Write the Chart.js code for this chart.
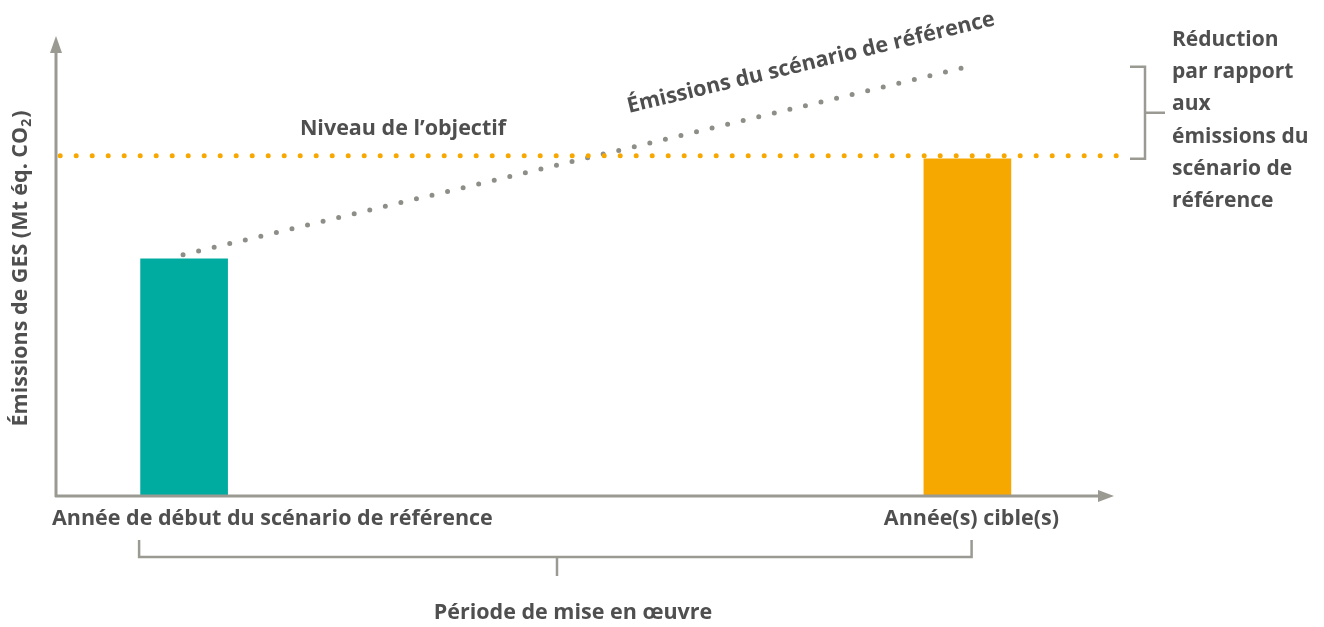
<!DOCTYPE html>
<html>
<head>
<meta charset="utf-8">
<script src="https://cdn.jsdelivr.net/npm/chart.js@4/dist/chart.umd.min.js"></script>
<style>
  html, body { margin: 0; padding: 0; background: #fff; }
  #wrap { width: 1324px; height: 627px; position: relative; }
</style>
</head>
<body>
<div id="wrap"><canvas id="schema"></canvas></div>
<script>
const categories = ['Année de début du scénario de référence', 'Année(s) cible(s)'];
const positions = [12.2, 86.8];
const emissions = [52.7, 74.9];
const niveauObjectif = 75.6;
const referenceX = [12.1, 87.2];
const referenceY = [53.6, 95.6];

const couleurTexte = '#4f4f4f';
const couleurAxe = '#9a9a92';
const police = '"Open Sans", "DejaVu Sans", sans-serif';
const taille = 21.5;

const decor = {
  id: 'decor',
  afterDraw(chart) {
    const ctx = chart.ctx;
    const xs = chart.scales.x, ys = chart.scales.y;
    const x0 = xs.getPixelForValue(0), y0 = ys.getPixelForValue(0);
    const xMax = xs.getPixelForValue(100);
    ctx.save();
    // axes avec flèches
    ctx.strokeStyle = couleurAxe; ctx.fillStyle = couleurAxe; ctx.lineWidth = 3;
    ctx.beginPath(); ctx.moveTo(x0, y0 + 1); ctx.lineTo(x0, 50); ctx.stroke();
    ctx.beginPath(); ctx.moveTo(x0 - 6, 53); ctx.lineTo(x0, 36); ctx.lineTo(x0 + 6, 53); ctx.closePath(); ctx.fill();
    ctx.beginPath(); ctx.moveTo(x0 - 1, y0); ctx.lineTo(xMax - 4, y0); ctx.stroke();
    ctx.beginPath(); ctx.moveTo(xMax - 8, y0 - 6); ctx.lineTo(xMax + 8, y0); ctx.lineTo(xMax - 8, y0 + 6); ctx.closePath(); ctx.fill();

    // accolade droite (réduction)
    const yObj = ys.getPixelForValue(niveauObjectif);
    const yRef = ys.getPixelForValue(referenceY[1]);
    const bx = 1145;
    ctx.lineWidth = 2.5;
    ctx.beginPath();
    ctx.moveTo(1130, yRef + 1); ctx.lineTo(bx, yRef + 1); ctx.lineTo(bx, yObj + 3); ctx.lineTo(1130, yObj + 3);
    ctx.moveTo(bx, (yRef + yObj) / 2 + 2); ctx.lineTo(1165, (yRef + yObj) / 2 + 2);
    ctx.stroke();

    // accolade du bas (période)
    const pa = xs.getPixelForValue(positions[0]) - 45;
    const pb = xs.getPixelForValue(referenceX[1]);
    ctx.beginPath();
    ctx.moveTo(pa, 540); ctx.lineTo(pa, 557); ctx.lineTo(pb, 557); ctx.lineTo(pb, 540);
    ctx.moveTo(557, 557); ctx.lineTo(557, 576);
    ctx.stroke();

    // textes
    ctx.fillStyle = couleurTexte;
    ctx.font = 'bold ' + taille + 'px ' + police;
    ctx.textBaseline = 'middle';
    ctx.textAlign = 'left';
    ctx.fillText(categories[0], 52, 519);
    ctx.textAlign = 'center';
    ctx.fillText(categories[1], xs.getPixelForValue(positions[1]) + 4, 519);
    ctx.fillText('Période de mise en œuvre', 573, 613);
    ctx.fillText('Niveau de l’objectif', 403, 129);

    ctx.textAlign = 'left';
    ctx.font = 'bold 21px ' + police;
    const lignes = ['Réduction', 'par rapport', 'aux', 'émissions du', 'scénario de', 'référence'];
    lignes.forEach((t, i) => ctx.fillText(t, 1172, 40 + i * 32.2));

    // texte incliné le long de la ligne de référence
    ctx.font = 'bold ' + taille + 'px ' + police;
    const ax = xs.getPixelForValue(referenceX[0]), ay = ys.getPixelForValue(referenceY[0]);
    const bxp = xs.getPixelForValue(referenceX[1]), byp = ys.getPixelForValue(referenceY[1]);
    ctx.save();
    ctx.translate(811, 63);
    ctx.rotate(Math.atan2(byp - ay, bxp - ax));
    ctx.textAlign = 'center';
    ctx.fillText('Émissions du scénario de référence', 0, 0);
    ctx.restore();

    // titre de l'axe vertical avec indice
    ctx.save();
    ctx.translate(21, 269);
    ctx.rotate(-Math.PI / 2);
    ctx.textAlign = 'left';
    const p1 = 'Émissions de GES (Mt éq. CO';
    const w1 = ctx.measureText(p1).width;
    ctx.font = 'bold 14px ' + police;
    const w2 = ctx.measureText('2').width;
    ctx.font = 'bold ' + taille + 'px ' + police;
    const w3 = ctx.measureText(')').width;
    const start = -(w1 + w2 + w3) / 2;
    ctx.fillText(p1, start, 0);
    ctx.font = 'bold 14px ' + police;
    ctx.fillText('2', start + w1, 6);
    ctx.font = 'bold ' + taille + 'px ' + police;
    ctx.fillText(')', start + w1 + w2 + 1, 0);
    ctx.restore();

    ctx.restore();
  }
};

new Chart(document.getElementById('schema'), {
  type: 'bar',
  data: {
    datasets: [
      {
        type: 'line',
        label: 'Niveau de l’objectif',
        data: [{x: 0.4, y: niveauObjectif}, {x: 101.4, y: niveauObjectif}],
        borderColor: '#f6a800',
        borderWidth: 5,
        borderDash: [0, 16],
        borderCapStyle: 'round',
        pointRadius: 0,
        clip: false,
        order: 0
      },
      {
        type: 'line',
        label: 'Émissions du scénario de référence',
        data: referenceX.map((x, i) => ({x: x, y: referenceY[i]})),
        borderColor: '#8e8e88',
        borderWidth: 5,
        borderDash: [0, 16],
        borderCapStyle: 'round',
        pointRadius: 0,
        clip: false,
        order: 0
      },
      {
        label: 'Émissions',
        data: positions.map((x, i) => ({x: x, y: emissions[i]})),
        backgroundColor: ['#00aba0', '#f6a800'],
        barThickness: 87,
        order: 1
      }
    ]
  },
  options: {
    responsive: true,
    maintainAspectRatio: false,
    animation: false,
    layout: { padding: { left: 56, right: 218, top: 46, bottom: 131 } },
    plugins: { legend: { display: false }, tooltip: { enabled: false } },
    scales: {
      x: { type: 'linear', min: 0, max: 100, offset: false, display: false },
      y: { min: 0, max: 100, display: false }
    }
  },
  plugins: [decor]
});
</script>
</body>
</html>
